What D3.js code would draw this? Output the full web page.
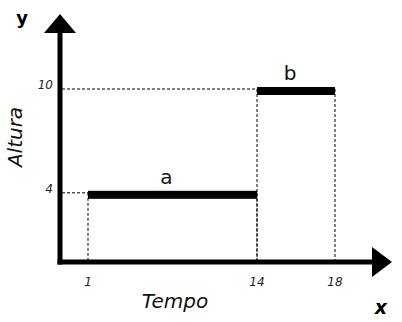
<!DOCTYPE html>
<html lang="pt">
<head>
<meta charset="utf-8">
<title>Altura x Tempo</title>
<style>
  body { margin: 0; padding: 0; background: #fff; overflow: hidden; }
  svg { display: block; }
  .tick { font-family: 'DejaVu Sans', sans-serif; font-style: italic; font-size: 12px; fill: #222; }
  .name { font-family: 'DejaVu Sans', sans-serif; font-style: italic; font-size: 20px; fill: #111; }
  .seg-label { font-family: 'DejaVu Sans', sans-serif; font-size: 20px; fill: #111; }
  .guide { stroke: #000; stroke-width: 1; stroke-dasharray: 3,2; fill: none; }
</style>
</head>
<body>
<svg id="chart" width="402" height="322"></svg>
<script src="https://cdnjs.cloudflare.com/ajax/libs/d3/7.8.5/d3.min.js"></script>
<script>
// segmentos: rótulo, tempo inicial, tempo final, altura
var labels = ['a', 'b'];
var tStart = [1, 14];
var tEnd = [14, 18];
var heights = [4, 10];
var xTicks = [1, 14, 18];
var yTicks = [4, 10];

var svg = d3.select('#chart');

// o eixo do tempo não é linear no desenho original
var x = d3.scaleLinear().domain([0, 1, 14, 18]).range([60, 88, 257, 335]);
var y = d3.scaleLinear().domain([0, 10]).range([262, 89]);

var x0 = x(0), y0 = y(0);

// linhas tracejadas de referência
var guides = svg.append('g');
labels.forEach(function (l, i) {
  guides.append('line').attr('class', 'guide')
    .attr('x1', x0 + 2).attr('x2', x(tStart[i]))
    .attr('y1', y(heights[i])).attr('y2', y(heights[i]));
  guides.append('line').attr('class', 'guide')
    .attr('x1', x(tStart[i])).attr('x2', x(tStart[i]))
    .attr('y1', y(heights[i])).attr('y2', y0);
  guides.append('line').attr('class', 'guide')
    .attr('x1', x(tEnd[i])).attr('x2', x(tEnd[i]))
    .attr('y1', y(heights[i])).attr('y2', y0);
});

// segmentos horizontais grossos
svg.append('g').selectAll('rect').data(labels).enter().append('rect')
  .attr('x', function (d, i) { return x(tStart[i]); })
  .attr('y', function (d, i) { return y(heights[i]) - 2; })
  .attr('width', function (d, i) { return x(tEnd[i]) - x(tStart[i]); })
  .attr('height', 8)
  .attr('fill', '#000');

svg.append('g').selectAll('text').data(labels).enter().append('text')
  .attr('class', 'seg-label')
  .attr('x', function (d, i) { return (x(tStart[i]) + x(tEnd[i])) / 2 - 6; })
  .attr('y', function (d, i) { return y(heights[i]) - 9; })
  .attr('text-anchor', 'middle')
  .text(function (d) { return d; });

// eixos com setas
svg.append('line').attr('x1', x0).attr('x2', x0).attr('y1', 30).attr('y2', y0 + 2.5)
  .attr('stroke', '#000').attr('stroke-width', 5);
svg.append('line').attr('x1', x0 - 2.5).attr('x2', 374).attr('y1', y0).attr('y2', y0)
  .attr('stroke', '#000').attr('stroke-width', 5);
svg.append('path').attr('d', d3.line()([[x0 - 16, 33], [x0, 14], [x0 + 16, 33]]) + 'Z').attr('fill', '#000');
svg.append('path').attr('d', d3.line()([[372, y0 - 15], [392, y0], [372, y0 + 15]]) + 'Z').attr('fill', '#000');

// marcas
svg.append('g').selectAll('text').data(xTicks).enter().append('text')
  .attr('class', 'tick')
  .attr('x', function (d) { return x(d); })
  .attr('y', y0 + 24)
  .attr('text-anchor', 'middle')
  .text(function (d) { return d; });

svg.append('g').selectAll('text').data(yTicks).enter().append('text')
  .attr('class', 'tick')
  .attr('x', x0 - 7)
  .attr('y', function (d) { return y(d); })
  .attr('text-anchor', 'end')
  .text(function (d) { return d; });

// títulos
svg.append('text').attr('class', 'name').attr('x', 175).attr('y', 308)
  .attr('text-anchor', 'middle').text('Tempo');
svg.append('text').attr('class', 'name')
  .attr('transform', 'translate(22,137) rotate(-90)')
  .attr('text-anchor', 'middle').text('Altura');
svg.append('text').attr('x', 22).attr('y', 24).attr('text-anchor', 'middle')
  .style('font-family', "'DejaVu Sans', sans-serif").style('font-weight', 'bold').style('font-size', '18px')
  .text('y');
svg.append('text').attr('x', 381).attr('y', 314).attr('text-anchor', 'middle')
  .style('font-family', "'DejaVu Sans', sans-serif").style('font-weight', 'bold').style('font-style', 'italic').style('font-size', '19px')
  .text('x');
</script>
</body>
</html>
